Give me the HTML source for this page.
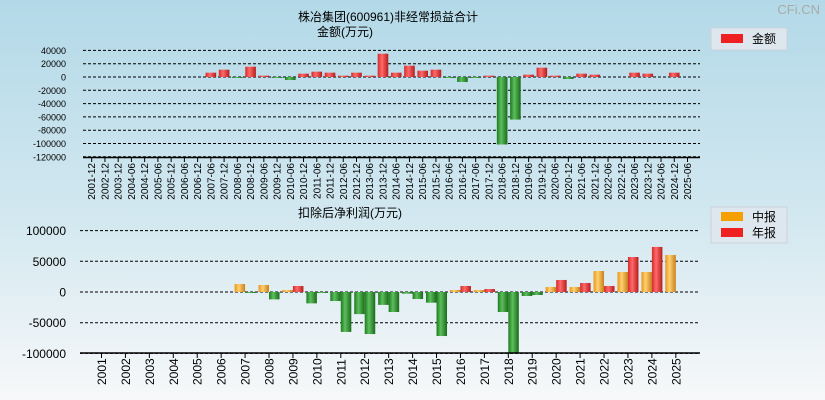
<!DOCTYPE html>
<html><head><meta charset="utf-8"><style>
html,body{margin:0;padding:0;width:825px;height:400px;overflow:hidden}
svg{display:block;font-family:"Liberation Sans","Noto Sans CJK SC",sans-serif}
</style></head><body>
<svg id="c" width="825" height="400" viewBox="0 0 825 400">
<defs>
<linearGradient id="bg" x1="0" y1="0" x2="0" y2="1"><stop offset="0" stop-color="#b3d9e8"/><stop offset="0.55" stop-color="#d3e8f0"/><stop offset="1" stop-color="#f7f8f9"/></linearGradient>
<linearGradient id="gr" x1="0" x2="1"><stop offset="0" stop-color="#d42a2a"/><stop offset="0.4" stop-color="#ff6a6a"/><stop offset="1" stop-color="#b81c1c"/></linearGradient>
<linearGradient id="gg" x1="0" x2="1"><stop offset="0" stop-color="#1e7a1e"/><stop offset="0.4" stop-color="#5cbf5c"/><stop offset="1" stop-color="#1a6a1a"/></linearGradient>
<linearGradient id="go" x1="0" x2="1"><stop offset="0" stop-color="#e8961a"/><stop offset="0.4" stop-color="#ffd070"/><stop offset="1" stop-color="#c8801a"/></linearGradient>
</defs>
<rect width="825" height="400" fill="url(#bg)"/>
<text x="820" y="14" text-anchor="end" font-size="13" fill="#aaa">CFi.CN</text>
<text x="388" y="21" text-anchor="middle" font-size="12">株冶集团(600961)非经常损益合计</text>
<text x="345" y="36" text-anchor="middle" font-size="12">金额(万元)</text>
<g>
<rect x="711" y="28" width="76" height="22" fill="#dfe7ee" stroke="#c8d2da"/>
<rect x="721" y="34" width="22" height="9" fill="#ee2020"/>
<text x="752" y="43" font-size="12">金额</text>
</g>
<text x="298" y="217" font-size="12">扣除后净利润(万元)</text>
<g>
<rect x="711" y="207" width="76" height="36" fill="#dfe7ee" stroke="#c8d2da"/>
<rect x="721" y="212" width="22" height="9" fill="#f5a000"/>
<text x="752" y="221" font-size="12">中报</text>
<rect x="721" y="228" width="22" height="9" fill="#ee2020"/>
<text x="752" y="237" font-size="12">年报</text>
</g>
<g id="top"></g><g id="bot"></g>
</svg>
<script>
const topCats=["2001-12","2002-12","2003-12","2004-06","2004-12","2005-06","2005-12","2006-06","2006-12","2007-06","2007-12","2008-06","2008-12","2009-06","2009-12","2010-06","2010-12","2011-06","2011-12","2012-06","2012-12","2013-06","2013-12","2014-06","2014-12","2015-06","2015-12","2016-06","2016-12","2017-06","2017-12","2018-06","2018-12","2019-06","2019-12","2020-06","2020-12","2021-06","2021-12","2022-06","2022-12","2023-06","2023-12","2024-06","2024-12","2025-06"];
const topVals=[0,0,0,0,0,0,0,0,0,6500,11000,-1000,15500,2000,-500,-4500,5000,8000,6500,2000,6500,2000,35000,6500,17000,9500,11000,-1500,-7500,-1500,2000,-101500,-64000,3500,14000,2000,-3000,5000,3500,0,0,6500,5000,0,6500,0];
const topTicks=[40000,20000,0,-20000,-40000,-60000,-80000,-100000,-120000];
const years=["2001","2002","2003","2004","2005","2006","2007","2008","2009","2010","2011","2012","2013","2014","2015","2016","2017","2018","2019","2020","2021","2022","2023","2024","2025"];
const interim=[0,0,0,0,0,0,13000,11400,3300,-18500,-14700,-36000,-21000,-2700,-17400,3300,3300,-32600,-6500,8200,8200,34200,32600,32600,60300];
const annual=[0,0,0,0,0,0,-1600,-12000,9800,-1600,-65000,-68500,-32600,-11400,-71700,9800,4900,-99500,-4900,19600,14700,9800,57000,73400,null];
const botTicks=[100000,50000,0,-50000,-100000];

const NS="http://www.w3.org/2000/svg";
function mk(p,tag,a){const e=document.createElementNS(NS,tag);for(const k in a)e.setAttribute(k,a[k]);p.appendChild(e);return e;}
const T=document.getElementById('top');
const ty=v=>77-(v/20000)*13.3;
const tx=i=>91.7+i*13.24;
topTicks.forEach(t=>{
 const l=mk(T,'line',{x1:83,x2:700,y1:ty(t),y2:ty(t),stroke:'#000','stroke-dasharray':'3,2','stroke-width':1});
 
 
 const tt=mk(T,'text',{x:66,y:ty(t)+3.5,'text-anchor':'end','font-size':9});
 tt.textContent=t;
 
 
});
const ta=mk(T,'line',{x1:83,x2:700,y1:157.5,y2:157.5,stroke:'#000','stroke-width':1.5});


topCats.forEach((c,i)=>{
 const x=tx(i);
 mk(T,'line',{x1:x,x2:x,y1:157,y2:162,stroke:'#000'});
 const lb=mk(T,'text',{transform:`translate(${x+3.5},163) rotate(-90)`,'text-anchor':'end','font-size':10});
 lb.textContent=c;
 
 
 const v=topVals[i]; if(!v) return;
 const y0=ty(0),y1=ty(v);
 const r=mk(T,'rect',{x:x-5.3,y:Math.min(y0,y1),width:10.6,height:Math.max(1,Math.abs(y1-y0)),fill:v>0?'url(#gr)':'url(#gg)'});
 
 
});
const B=document.getElementById('bot');
const by=v=>292-(v/50000)*30.7;
const bx=i=>101.5+i*23.93;
botTicks.forEach(t=>{
 const l=mk(B,'line',{x1:80,x2:700,y1:by(t),y2:by(t),stroke:'#000','stroke-dasharray':'3,2','stroke-width':1});
 
 
 const tt=mk(B,'text',{x:66,y:by(t)+4.5,'text-anchor':'end','font-size':12});
 tt.textContent=t;
 
 
});
years.forEach((c,i)=>{
 const x=bx(i);
 const bar=(v,x0,fillPos,nm)=>{ if(v===null||v===0) return;
  let y1=Math.min(Math.max(by(v),by(105000)),353); const y0=by(0);
  const r=mk(B,'rect',{x:x0,y:Math.min(y0,y1),width:10.5,height:Math.max(1,Math.abs(y1-y0)),fill:v>0?fillPos:'url(#gg)'});
  
  
 };
 bar(interim[i],x-10.5,'url(#go)','interim');
 bar(annual[i],x,'url(#gr)','annual');
 mk(B,'line',{x1:x,x2:x,y1:353,y2:358,stroke:'#000'});
 const lb=mk(B,'text',{transform:`translate(${x+4.5},385) rotate(-90)`,'text-anchor':'start','font-size':12});
 lb.textContent=c;
 
 
});
const ba=mk(B,'line',{x1:80,x2:700,y1:353,y2:353,stroke:'#000','stroke-width':1.5});


</script>
</body></html>
